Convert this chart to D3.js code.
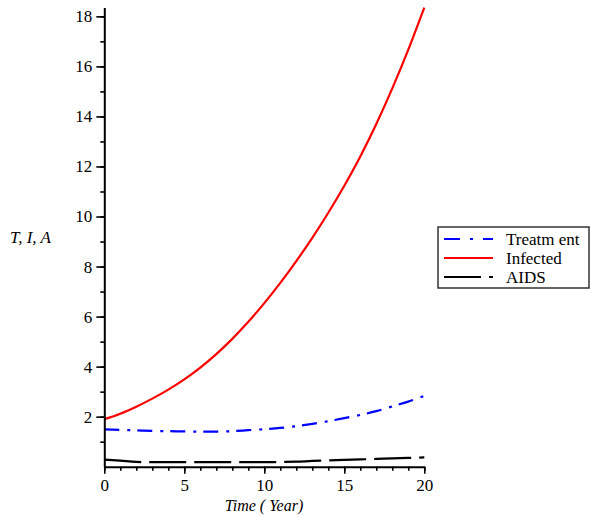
<!DOCTYPE html>
<html>
<head>
<meta charset="utf-8">
<script src="https://cdn.jsdelivr.net/npm/d3@7"></script>
<style>
  body { margin: 0; background: #fff; }
  svg { display: block; }
  text { font-family: "Liberation Serif", "Times New Roman", serif; fill: #000; }
</style>
</head>
<body>
<div id="chart"></div>
<script>
// Values (time in years)
const years = [0,1,2,3,4,5,6,7,8,9,10,11,12,13,14,15,16,17,18,19,20];
const infected  = [1.9,2.12,2.4,2.72,3.08,3.49,3.96,4.5,5.11,5.79,6.54,7.35,8.22,9.15,10.15,11.23,12.4,13.7,15.12,16.67,18.35];
const treatment = [1.49,1.47,1.45,1.43,1.42,1.41,1.4,1.4,1.42,1.46,1.5,1.55,1.62,1.71,1.82,1.94,2.07,2.22,2.41,2.6,2.83];
const aids      = [0.28,0.24,0.19,0.18,0.18,0.18,0.18,0.18,0.18,0.18,0.18,0.19,0.2,0.23,0.25,0.27,0.29,0.31,0.33,0.35,0.37];

const xMajor = [0,5,10,15,20];
const yMajor = [2,4,6,8,10,12,14,16,18];

const series = [
  {name: "Treatm ent", values: treatment, color: "#0000ff", dash: "15,8,3,7", legendDash: "16,10,3,10"},
  {name: "Infected",   values: infected,  color: "#ff0000", dash: null,       legendDash: null},
  {name: "AIDS",       values: aids,      color: "#000000", dash: "37,8",     legendDash: "37,8"}
];

const W = 590, H = 515;
const serif = "'Liberation Serif', 'Times New Roman', serif";

const svg = d3.select("#chart")
  .append("svg")
    .attr("width", W)
    .attr("height", H);

const x = d3.scaleLinear().domain([0, 20]).range([104.3, 424.3]);
const y = d3.scaleLinear().domain([0, 18.35]).range([466.7, 7.6]);

// lines
const line = d3.line()
    .x((d, i) => x(years[i]))
    .y(d => y(d))
    .curve(d3.curveMonotoneX);

series.forEach(s => {
  svg.append("path")
      .datum(s.values)
      .attr("fill", "none")
      .attr("stroke", s.color)
      .attr("stroke-width", 2.2)
      .attr("stroke-dasharray", s.dash)
      .attr("d", line);
});

// minor ticks (no labels)
svg.append("g")
    .attr("transform", `translate(${x(0)},0)`)
    .call(d3.axisLeft(y).tickValues(d3.range(1, 19)).tickSize(4).tickFormat(""))
    .call(g => g.select(".domain").remove());

svg.append("g")
    .attr("transform", `translate(0,${y(0)})`)
    .call(d3.axisBottom(x).tickValues(d3.range(0, 21)).tickSize(4).tickFormat(""))
    .call(g => g.select(".domain").remove());

// major ticks with labels
const yAxis = svg.append("g")
    .attr("transform", `translate(${x(0)},0)`)
    .call(d3.axisLeft(y).tickValues(yMajor).tickSize(8).tickPadding(4).tickSizeOuter(0));

const xAxis = svg.append("g")
    .attr("transform", `translate(0,${y(0)})`)
    .call(d3.axisBottom(x).tickValues(xMajor).tickSize(7).tickPadding(5).tickSizeOuter(0));

[yAxis, xAxis].forEach(g => {
  g.attr("font-family", serif).attr("font-size", 17);
  g.selectAll("text").style("font-family", serif).style("font-size", "17px");
  g.select(".domain").attr("stroke-width", 2);
});
svg.selectAll(".tick line").attr("stroke", "#000").attr("stroke-width", 1.6);

// axis titles
svg.append("text")
    .attr("x", 264)
    .attr("y", 511)
    .attr("text-anchor", "middle")
    .style("font-size", "16px")
    .style("font-style", "italic")
    .text("Time ( Year)");

svg.append("text")
    .attr("x", 10)
    .attr("y", 243)
    .style("font-size", "17px")
    .style("font-style", "italic")
    .text("T, I, A");

// legend
const legend = svg.append("g").attr("transform", "translate(438,227)");
legend.append("rect")
    .attr("width", 151)
    .attr("height", 61)
    .attr("fill", "#fff")
    .attr("stroke", "#333")
    .attr("stroke-width", 1.5);

series.forEach((s, i) => {
  const ly = 12 + i * 19;
  legend.append("line")
      .attr("x1", 6).attr("x2", 55)
      .attr("y1", ly).attr("y2", ly)
      .attr("stroke", s.color)
      .attr("stroke-width", 2.2)
      .attr("stroke-dasharray", s.legendDash);
  legend.append("text")
      .attr("x", 68)
      .attr("y", ly + 6)
      .style("font-size", "17px")
      .text(s.name);
});
</script>
</body>
</html>
